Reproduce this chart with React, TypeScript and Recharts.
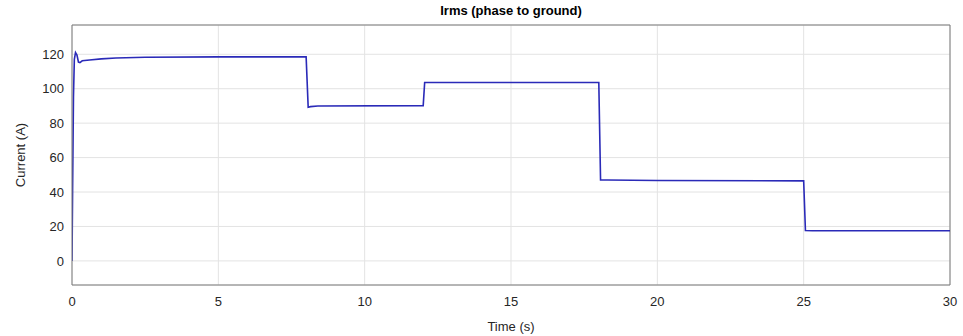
import React from 'react';
import { LineChart, Line, XAxis, YAxis, CartesianGrid, ReferenceLine } from 'recharts';

const timeS = [0, 0.02, 0.05, 0.08, 0.12, 0.17, 0.22, 0.27, 0.35, 0.6, 1.0, 1.5, 2.5, 5.0, 8.0, 8.07, 8.15, 8.4, 12.0, 12.05, 15.0, 18.0, 18.06, 18.3, 20.0, 25.0, 25.06, 25.3, 30.0];
const currentA = [0, 40, 95, 117, 121, 119.5, 115.5, 115.2, 116.2, 116.7, 117.3, 117.8, 118.3, 118.5, 118.5, 89.2, 89.6, 90.0, 90.2, 103.6, 103.6, 103.6, 47.0, 47.0, 46.7, 46.5, 17.6, 17.5, 17.5];
const xTicks = [0, 5, 10, 15, 20, 25, 30];
const yTicks = [0, 20, 40, 60, 80, 100, 120];

const data = timeS.map((t, i) => ({ t, i: currentA[i] }));

const font = '"Liberation Sans", Arial, sans-serif';
const axisColor = '#7a7a7a';
const tickStyle = { fill: '#262626', fontSize: 13, fontFamily: font };

export default function App() {
  return (
    <div style={{ position: 'absolute', left: 0, top: 0, width: 963, height: 336, background: '#fff' }}>
      <div
        style={{
          position: 'absolute',
          left: 72,
          width: 878,
          top: 3,
          textAlign: 'center',
          fontFamily: font,
          fontWeight: 'bold',
          fontSize: 13,
          color: '#000',
        }}
      >
        Irms (phase to ground)
      </div>
      <LineChart width={963} height={336} data={data} margin={{ top: 25, right: 13, left: 0, bottom: 0 }}>
        <CartesianGrid stroke="#e3e3e3" strokeWidth={1} />
        <XAxis
          dataKey="t"
          type="number"
          domain={[0, 30]}
          ticks={xTicks}
          height={51}
          tickLine={false}
          tickMargin={6}
          axisLine={{ stroke: axisColor }}
          tick={tickStyle}
          allowDataOverflow
          label={{ value: 'Time (s)', position: 'insideBottom', offset: 5, style: { fill: '#262626', fontSize: 13, fontFamily: font } }}
        />
        <YAxis
          type="number"
          domain={[-14, 137]}
          ticks={yTicks}
          width={72}
          tickLine={false}
          tickMargin={2}
          axisLine={{ stroke: axisColor }}
          tick={tickStyle}
          allowDataOverflow
          label={{ value: 'Current (A)', angle: -90, position: 'insideLeft', offset: 20, style: { textAnchor: 'middle', fill: '#262626', fontSize: 13, fontFamily: font } }}
        />
        <ReferenceLine y={137} stroke={axisColor} />
        <ReferenceLine x={30} stroke={axisColor} />
        <Line
          dataKey="i"
          type="linear"
          stroke="#2a2ab8"
          strokeWidth={1.6}
          dot={false}
          isAnimationActive={false}
        />
      </LineChart>
    </div>
  );
}
